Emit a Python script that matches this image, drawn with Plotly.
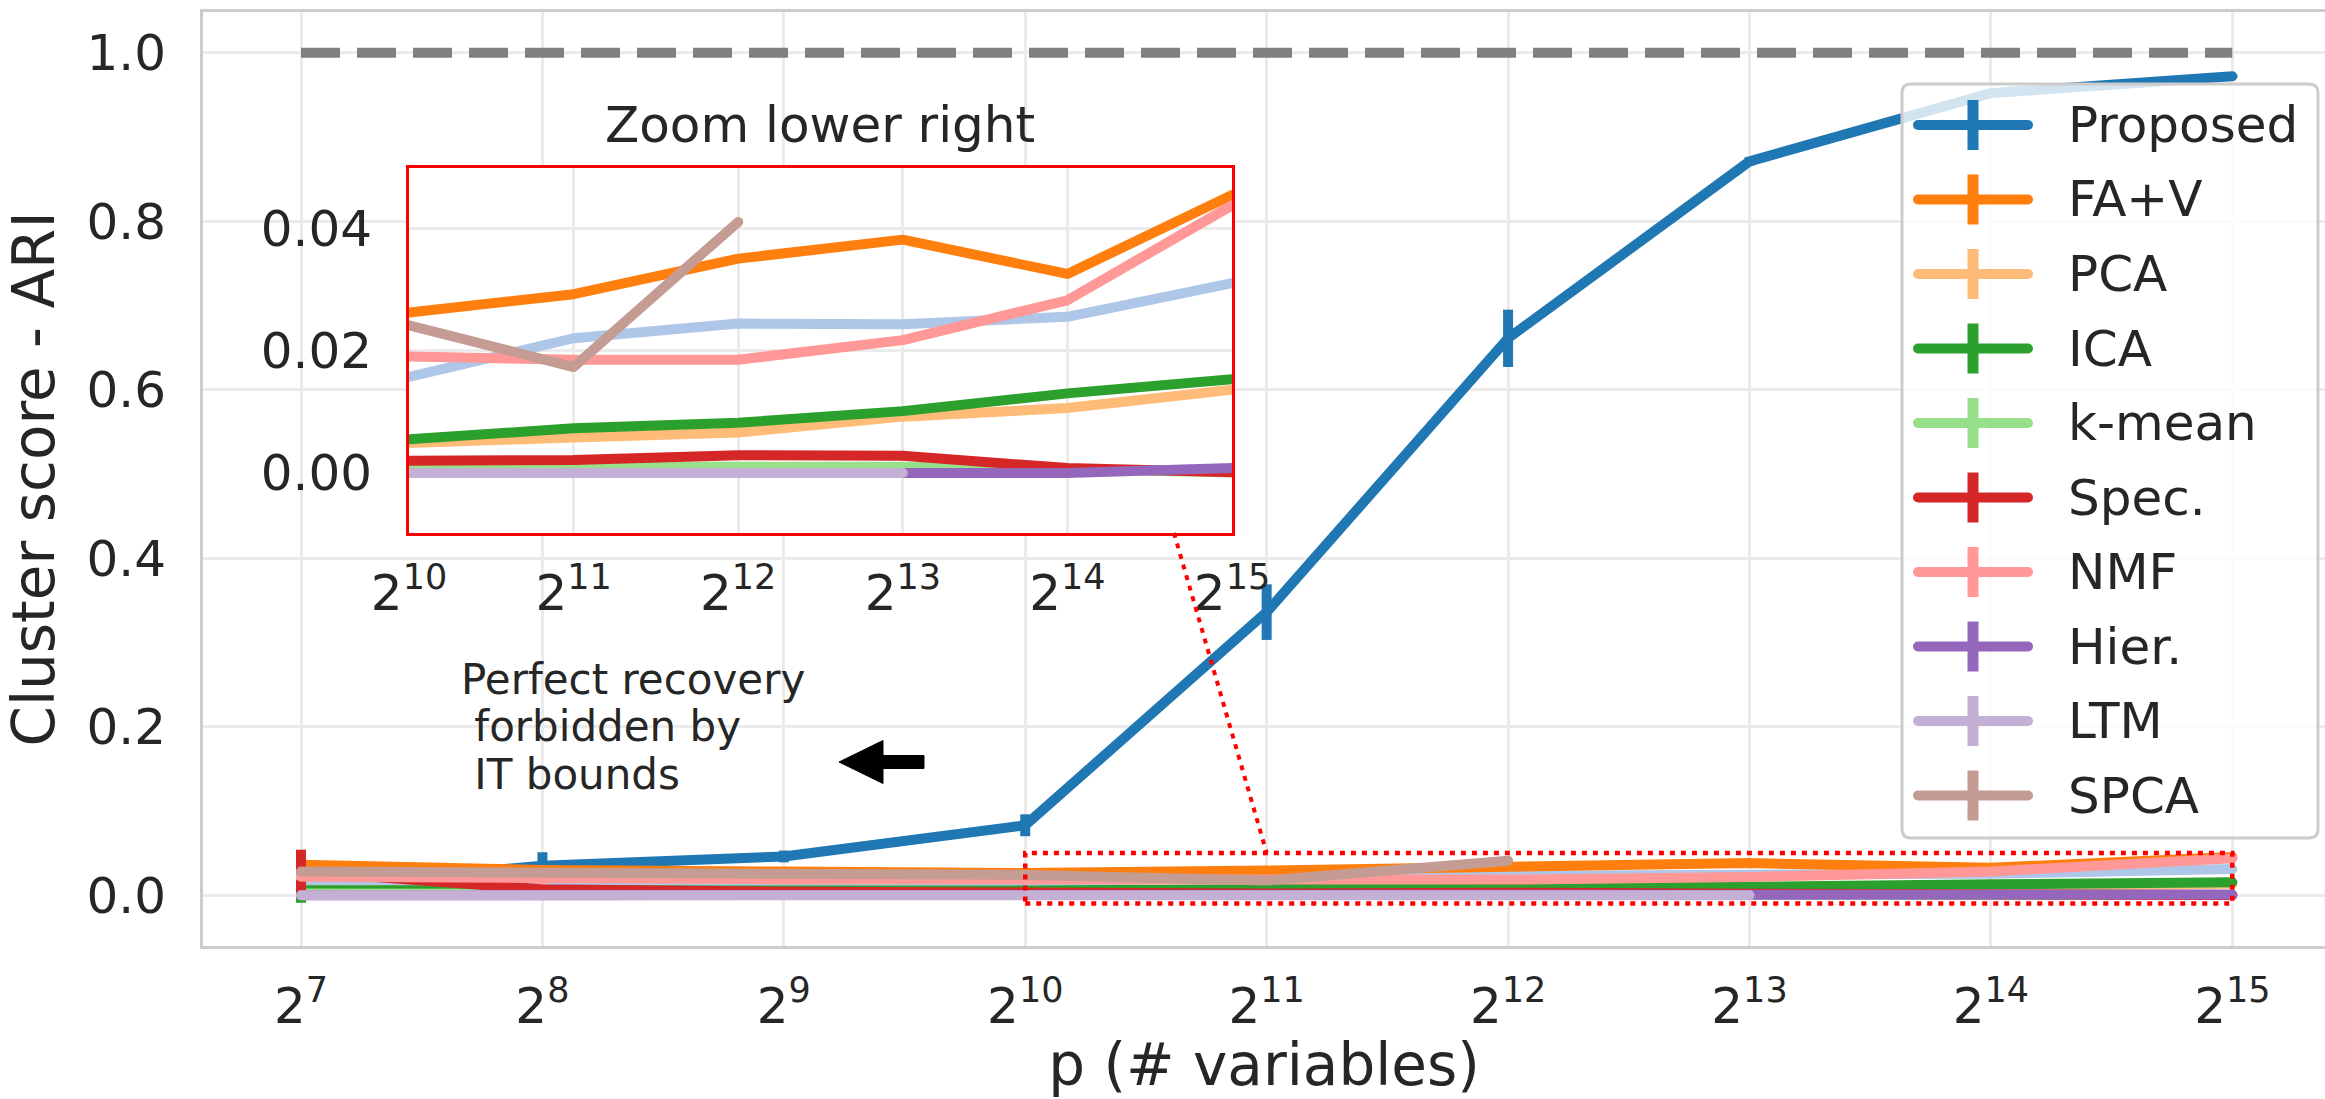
import plotly.graph_objects as go

# ---------------- data ----------------
log2_p = [7, 8, 9, 10, 11, 12, 13, 14, 15]
tick_labels = [f"2<sup>{e}</sup>" for e in log2_p]
perfect_score = [1.0, 1.0]

proposed = [0.010, 0.035, 0.046, 0.083, 0.336, 0.661, 0.871, 0.952, 0.972]
proposed_err = [0.003, 0.016, 0.007, 0.013, 0.033, 0.034, 0.005, 0.003, 0.002]
unlabeled = [0.012, 0.013, 0.014, 0.0157, 0.0220, 0.0244, 0.0243, 0.0255, 0.0310]
fa_v = [0.036, 0.030, 0.028, 0.0262, 0.0292, 0.0350, 0.0381, 0.0325, 0.0454]
pca = [0.006, 0.004, 0.004, 0.0047, 0.0058, 0.0066, 0.0092, 0.0106, 0.0136]
ica = [0.006, 0.005, 0.005, 0.0055, 0.0073, 0.0082, 0.0101, 0.0130, 0.0153]
ica_err = [0.015, 0.006, 0.002, 0.001, 0.001, 0.001, 0.001, 0.001, 0.001]
kmean = [0.002, 0.001, 0.001, 0.0011, 0.0011, 0.0011, 0.0010, 0.0006, 0.0001]
spec = [0.028, 0.007, 0.004, 0.0020, 0.0021, 0.0029, 0.0028, 0.0008, 0.0001]
spec_err = [0.026, 0.004, 0.002, 0.001, 0.001, 0.001, 0.001, 0.001, 0.001]
nmf = [0.022, 0.020, 0.019, 0.0190, 0.0185, 0.0185, 0.0217, 0.0282, 0.0437]
nmf_err = [0.004, 0.007, 0.006, 0.002, 0.002, 0.002, 0.002, 0.002, 0.002]
hier = [0.0, 0.0, 0.0, 0.0, 0.0, 0.0, 0.0, 0.0, 0.0008]
ltm = [0.0, 0.0, 0.0, 0.0, 0.0, 0.0, 0.0, None, None]
spca = [0.028, 0.027, 0.026, 0.0241, 0.0173, 0.0410, None, None, None]

series_names = ["Proposed", None, "FA+V", "PCA", "ICA", "k-mean", "Spec.", "NMF", "Hier.", "LTM", "SPCA"]
series_values = [proposed, unlabeled, fa_v, pca, ica, kmean, spec, nmf, hier, ltm, spca]
series_errors = [proposed_err, None, None, None, ica_err, None, spec_err, nmf_err, None, None, None]
series_colors = ["#1f77b4", "#aec7e8", "#ff7f0e", "#ffbb78", "#2ca02c", "#98df8a",
                 "#d62728", "#ff9896", "#9467bd", "#c5b0d5", "#c49c94"]

inset_x_ticks = [10, 11, 12, 13, 14, 15]
inset_y_ticks = [0.0, 0.02, 0.04]

# ---------------- geometry ----------------
W, H = 2325, 1099
L, R, T, B = 203, 0, 12, 153
PW, PH = W - L - R, H - T - B


def px(x):
    return (x - L) / PW


def py(y):
    return (H - B - y) / PH


TXT = "#262626"
GRID = "#ebebeb"
FONT = "DejaVu Sans"
LW = 10

fig = go.Figure()

# perfect-recovery reference line
fig.add_trace(go.Scatter(x=[log2_p[0], log2_p[-1]], y=perfect_score, mode="lines",
                         line=dict(color="#808080", width=LW, dash="39px,17px"),
                         showlegend=False, hoverinfo="skip"))

for name, ys, err, col in zip(series_names, series_values, series_errors, series_colors):
    kw = {}
    if err is not None:
        kw["error_y"] = dict(type="data", array=err, thickness=10, width=0, color=col)
    fig.add_trace(go.Scatter(x=log2_p, y=ys, mode="lines", name=name or "",
                             line=dict(color=col, width=LW), showlegend=False, **kw))

for name, ys, col in zip(series_names, series_values, series_colors):
    fig.add_trace(go.Scatter(x=log2_p, y=ys, mode="lines", name=name or "",
                             line=dict(color=col, width=LW), showlegend=False,
                             xaxis="x2", yaxis="y2"))

shapes = []
annotations = []

# zoom rectangle on main axes
shapes.append(dict(type="rect", xref="x", yref="y", x0=inset_x_ticks[0], x1=inset_x_ticks[-1],
                   y0=-0.01, y1=0.05, line=dict(color="red", width=4.5, dash="5px,6px"),
                   layer="above"))
# connector
shapes.append(dict(type="line", xref="x", yref="y", x0=10.616, y0=0.430, x1=11, y1=0.05,
                   line=dict(color="red", width=4, dash="5px,6px"), layer="above"))

# arrow (pointing left)
arrow_pts = [(839, 762), (883, 740.5), (883, 755.5), (924, 755.5), (924, 768.5),
             (883, 768.5), (883, 783.5)]
path = "M " + " L ".join(f"{px(x):.5f},{py(y):.5f}" for x, y in arrow_pts) + " Z"
shapes.append(dict(type="path", xref="paper", yref="paper", path=path,
                   fillcolor="black", line=dict(color="black", width=1)))

# text annotation
for i, line in enumerate(["Perfect recovery", "\u00a0forbidden by", "\u00a0IT bounds"]):
    annotations.append(dict(xref="paper", yref="paper", x=px(459), y=py(679 + 47.5 * i),
                            xanchor="left", yanchor="middle", showarrow=False, text=line,
                            font=dict(size=42, color=TXT, family=FONT)))

# inset title
annotations.append(dict(xref="paper", yref="paper", x=px(820), y=py(125), xanchor="center",
                        yanchor="middle", showarrow=False, text="Zoom lower right",
                        font=dict(size=50, color=TXT, family=FONT)))

# ---------------- custom legend ----------------
bx0, bx1, by0, by1, rad = 1902, 2318, 84, 838, 9


def P(x, y):
    return f"{px(x):.5f},{py(y):.5f}"


box = (f"M {P(bx0 + rad, by0)} L {P(bx1 - rad, by0)} Q {P(bx1, by0)} {P(bx1, by0 + rad)} "
       f"L {P(bx1, by1 - rad)} Q {P(bx1, by1)} {P(bx1 - rad, by1)} "
       f"L {P(bx0 + rad, by1)} Q {P(bx0, by1)} {P(bx0, by1 - rad)} "
       f"L {P(bx0, by0 + rad)} Q {P(bx0, by0)} {P(bx0 + rad, by0)} Z")
shapes.append(dict(type="path", xref="paper", yref="paper", path=box,
                   fillcolor="rgba(255,255,255,0.8)", line=dict(color="#cccccc", width=3)))

legend_line_idx = []
k = 0
for name, col in zip(series_names, series_colors):
    if name is None:
        continue
    yc = 125 + 74.5 * k
    legend_line_idx.append(len(shapes))
    shapes.append(dict(type="line", xref="paper", yref="paper", x0=px(1918), x1=px(2028),
                       y0=py(yc), y1=py(yc), line=dict(color=col, width=10)))
    shapes.append(dict(type="line", xref="paper", yref="paper", x0=px(1973), x1=px(1973),
                       y0=py(yc - 25), y1=py(yc + 25), line=dict(color=col, width=11)))
    annotations.append(dict(xref="paper", yref="paper", x=px(2066), y=py(yc),
                            xanchor="left", yanchor="middle", showarrow=False, text=name,
                            font=dict(size=50, color=TXT, family=FONT)))
    k += 1

fig.update_layout(
    width=W, height=H, autosize=False,
    margin=dict(l=L, r=R, t=T, b=B, pad=0, autoexpand=False),
    paper_bgcolor="white", plot_bgcolor="white",
    font=dict(family=FONT, size=50, color=TXT),
    showlegend=False,
    xaxis=dict(domain=[0, 1], range=[6.594, 15.384], tickvals=log2_p, ticktext=tick_labels,
               showgrid=True, gridcolor=GRID, gridwidth=3, zeroline=False, ticks="",
               showline=True, linecolor="#cccccc", linewidth=3, mirror=True,
               ticklabelstandoff=14, automargin=False,
               title=dict(text="p (# variables)", font=dict(size=58, color=TXT), standoff=20)),
    yaxis=dict(domain=[0, 1], range=[-0.0603, 1.0483], tickvals=[0, 0.2, 0.4, 0.6, 0.8, 1.0],
               ticktext=["0.0", "0.2", "0.4", "0.6", "0.8", "1.0"],
               showgrid=True, gridcolor=GRID, gridwidth=3, zeroline=False, ticks="",
               showline=True, linecolor="#cccccc", linewidth=3, mirror=False,
               ticklabelstandoff=24, automargin=False,
               title=dict(text="Cluster score - ARI", font=dict(size=58, color=TXT), standoff=15)),
    xaxis2=dict(domain=[px(409), px(1232)], anchor="y2", range=[10, 15],
                tickvals=inset_x_ticks, ticktext=[f"2<sup>{e}</sup>" for e in inset_x_ticks],
                showgrid=True, gridcolor=GRID, gridwidth=3, zeroline=False, ticks="",
                showline=True, linecolor="red", linewidth=3, mirror=True,
                ticklabelstandoff=14, automargin=False),
    yaxis2=dict(domain=[py(533), py(168)], anchor="x2", range=[-0.0098, 0.0498],
                tickvals=inset_y_ticks, ticktext=["0.00", "0.02", "0.04"],
                showgrid=True, gridcolor=GRID, gridwidth=3, zeroline=False, ticks="",
                showline=True, linecolor="red", linewidth=3, mirror=True,
                ticklabelstandoff=24, automargin=False),
    shapes=shapes, annotations=annotations,
)

post_js = """
document.body.style.margin='0';document.body.style.overflow='hidden';
var gd = document.getElementById('{plot_id}');
gd.querySelectorAll('.scatterlayer .js-line').forEach(function(p){
  var da = p.style.strokeDasharray;
  if(!da || da === 'none' || da === '') { p.style.strokeLinecap='round'; p.style.strokeLinejoin='round'; }
});
var idx = %s;
idx.forEach(function(i){
  gd.querySelectorAll('.shapelayer path[data-index="' + i + '"]').forEach(function(p){
    p.style.strokeLinecap='round';
  });
});
""" % str(legend_line_idx)

fig.write_html("out.html", config={"displayModeBar": False}, post_script=post_js)
